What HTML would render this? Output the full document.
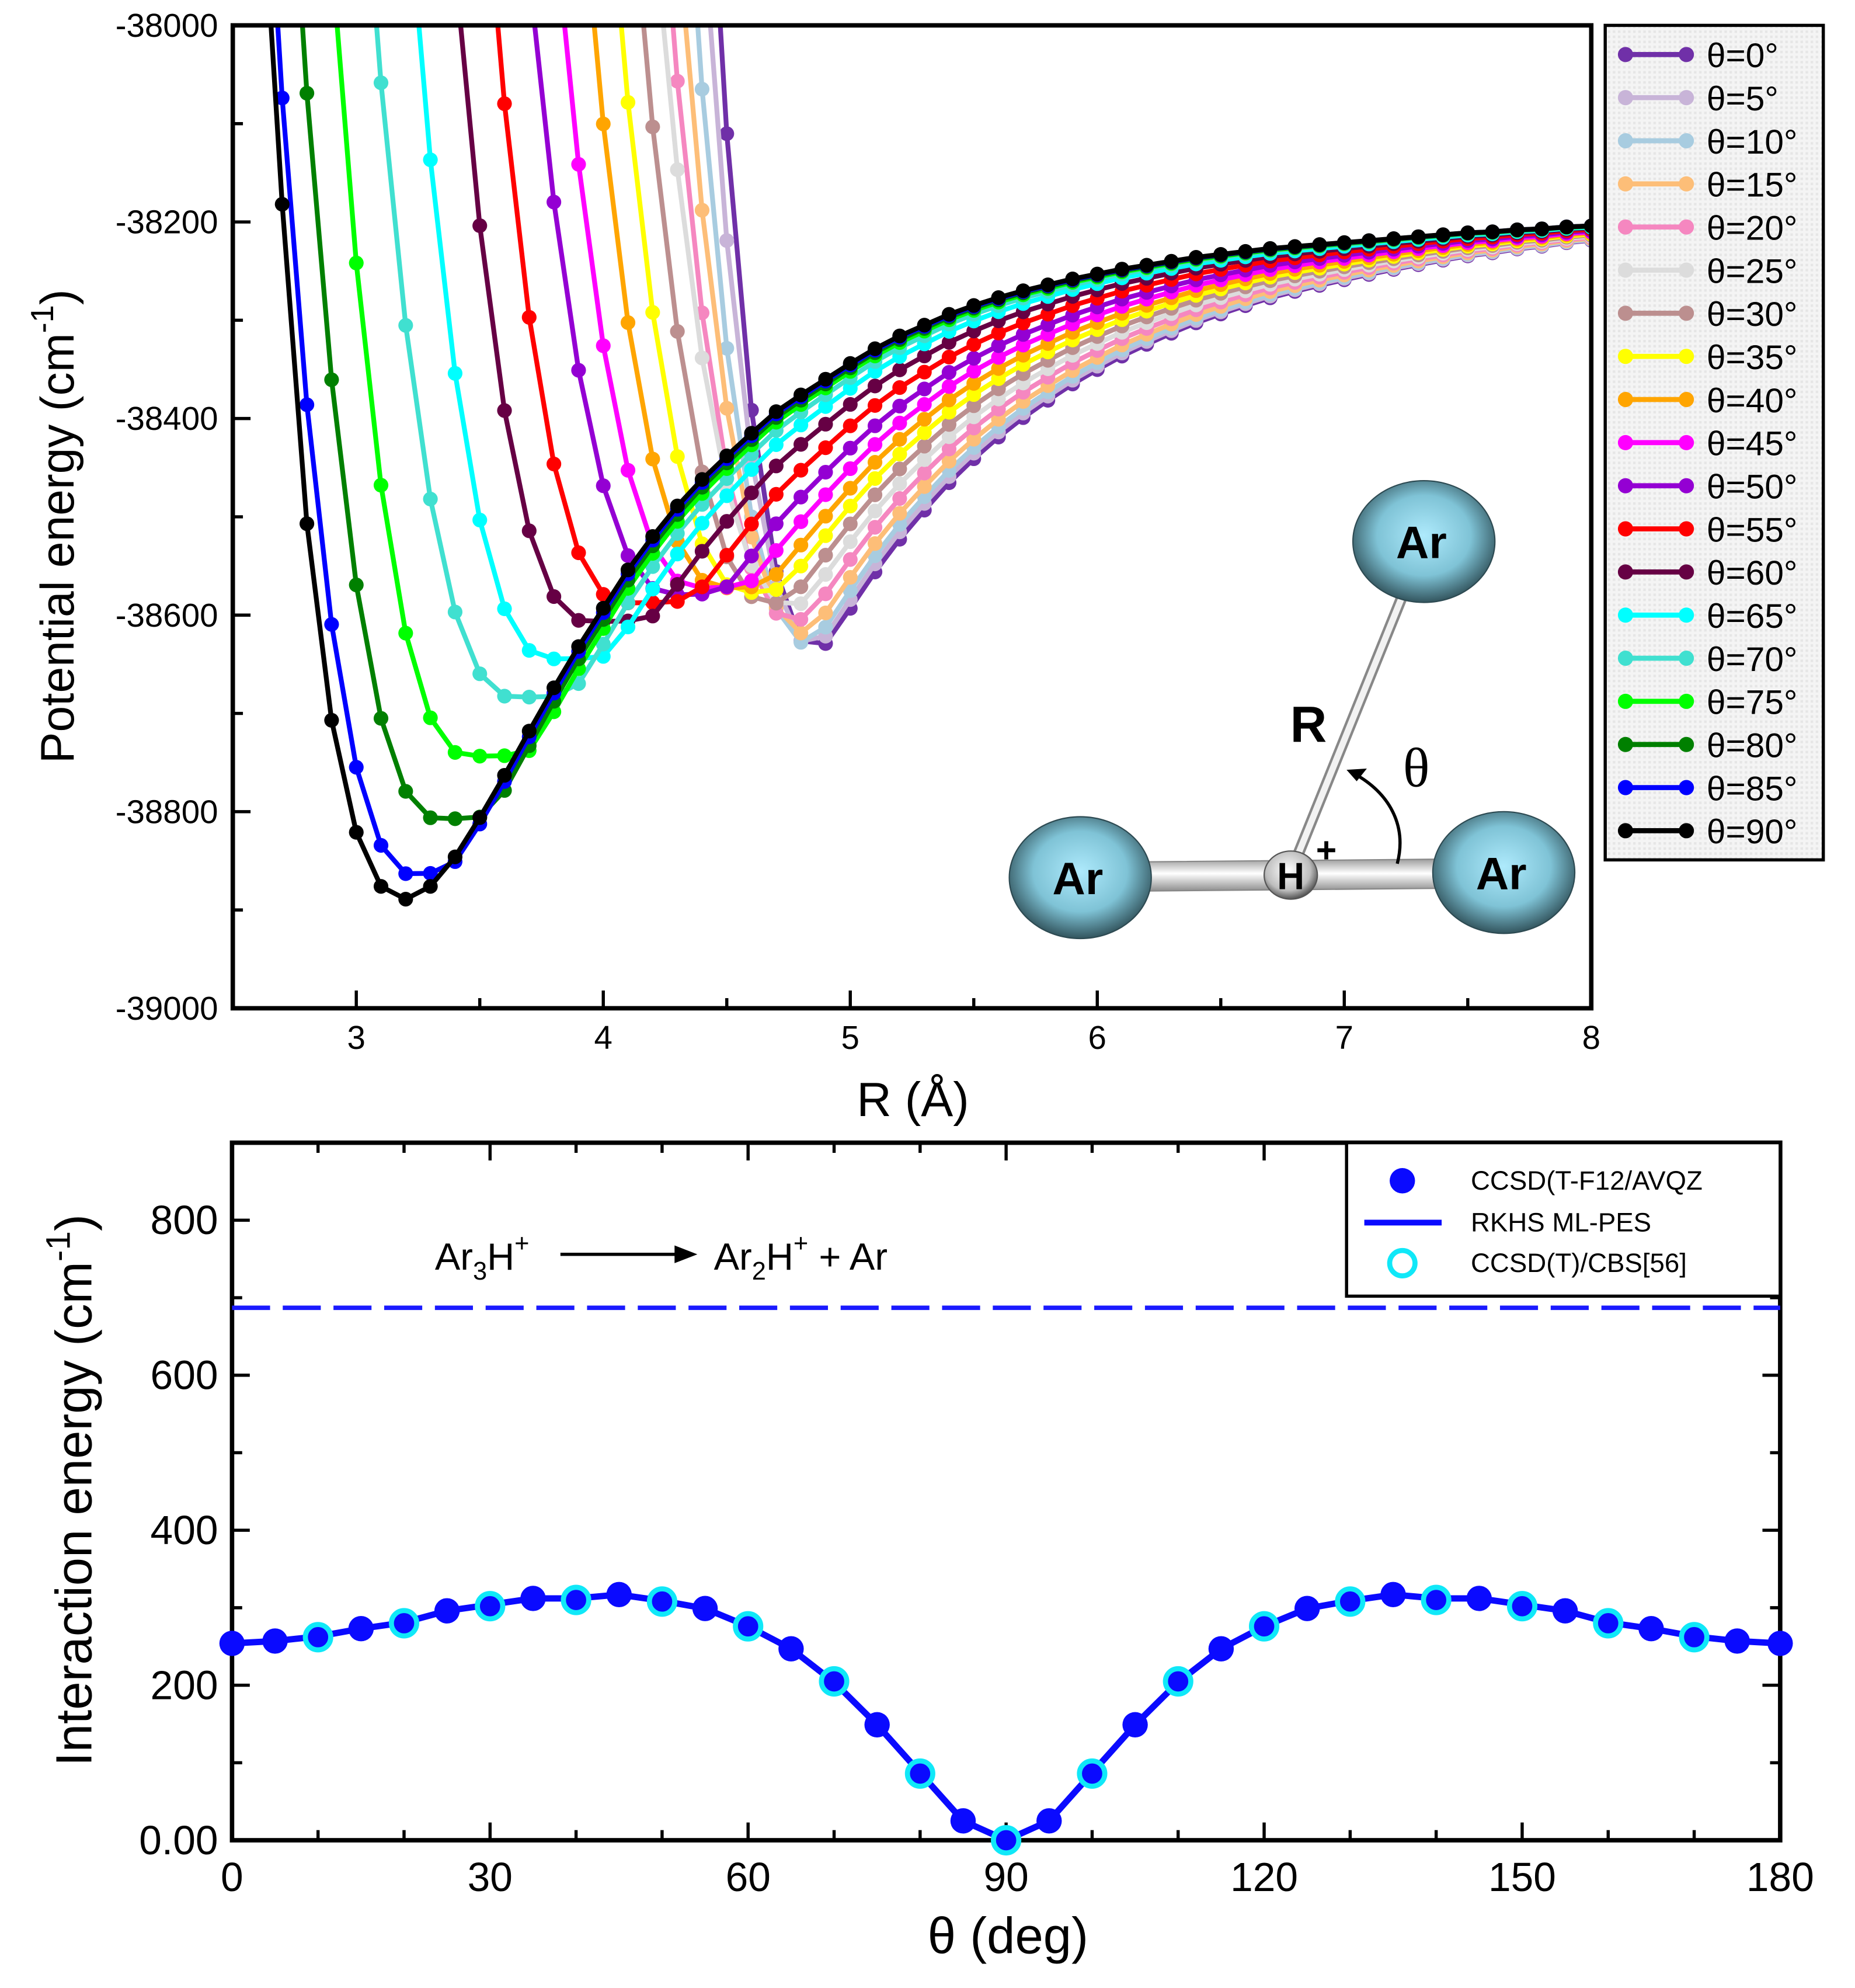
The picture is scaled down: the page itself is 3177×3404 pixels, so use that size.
<!DOCTYPE html>
<html><head><meta charset="utf-8"><title>Ar3H+ potential energy curves</title>
<style>
html,body{margin:0;padding:0;background:#fff;}
svg{display:block;font-family:"Liberation Sans",Arial,sans-serif;}
</style></head>
<body>
<svg id="fig" xmlns="http://www.w3.org/2000/svg" width="3177" height="3404" viewBox="0 0 1463 1567.5" preserveAspectRatio="none">
<defs>
 <clipPath id="clipTop"><rect x="183.6" y="20" width="1071.4" height="775"/></clipPath>
 <clipPath id="clipBot"><rect x="183" y="901" width="1221" height="550"/></clipPath>
 <radialGradient id="arGrad" cx="50%" cy="45%" r="55%">
  <stop offset="0%" stop-color="#aeeafc"/><stop offset="60%" stop-color="#7fc3d6"/><stop offset="100%" stop-color="#33555e"/>
 </radialGradient>
 <radialGradient id="hGrad" cx="45%" cy="40%" r="60%">
  <stop offset="0%" stop-color="#ffffff"/><stop offset="70%" stop-color="#bdbdbd"/><stop offset="100%" stop-color="#555"/>
 </radialGradient>
 <linearGradient id="rodH" x1="0" y1="0" x2="0" y2="1">
  <stop offset="0%" stop-color="#9a9a9a"/><stop offset="45%" stop-color="#ffffff"/><stop offset="100%" stop-color="#8a8a8a"/>
 </linearGradient>
 <pattern id="legPat" width="4" height="4" patternUnits="userSpaceOnUse">
  <rect width="4" height="4" fill="#f4f4f4"/><rect width="2" height="2" fill="#e6e6e6"/>
 </pattern>
</defs>
<g id="top-plot"></g>
<g id="bot-plot"></g>
</svg>
<script>
// ---------- TOP CHART DATA ----------
const rGridStart = 2.6;
const rGridCount = 55; // 2.6 .. 8.0 step 0.1
const blackEnergies = [-37780,-38182,-38507,-38707,-38821,-38876,-38889,-38876,-38846,-38806,-38763,-38718,-38674,-38632,-38593,-38554,-38520,-38489,-38462,-38438,-38415,-38393,-38376,-38360,-38344,-38329,-38316,-38305,-38294,-38285,-38277,-38270,-38264,-38258,-38253,-38248,-38244,-38240,-38236,-38233,-38230,-38227,-38225,-38223,-38221,-38219,-38217,-38215,-38213,-38211,-38210,-38208,-38207,-38205,-38204];
const angles = [0,5,10,15,20,25,30,35,40,45,50,55,60,65,70,75,80,85,90];
const angleColors = ["#7030a8","#c8b4d8","#a8cce0","#fdbe78","#f587c0","#dcdcdc","#bc8f8f","#ffff00","#ffa500","#ff00ff","#9400d3","#ff0000","#660044","#00ffff","#40e0d0","#00ff00","#008000","#0000ff","#000000"];
const wallR = [4.47,4.43,4.38,4.33,4.28,4.24,4.16,4.07,3.96,3.84,3.72,3.57,3.42,3.25,3.08,2.92,2.78,2.68,2.65];
const minR = [4.88,4.88,4.85,4.85,4.8,4.8,4.7,4.6,4.5,4.4,4.3,4.1,3.95,3.8,3.65,3.47,3.35,3.25,3.2];
const minE = [-38637,-38635,-38630,-38620,-38608,-38595,-38590,-38578,-38573,-38573,-38580,-38588,-38607,-38645,-38684,-38744,-38808,-38865,-38889];
const tailOffset = [275,265,255,240,220,200,180,160,140,118,95,70,46,28,16,9,5,2,0];
const yTicksTop = [-38000,-38200,-38400,-38600,-38800,-39000];
const xTicksTop = [3,4,5,6,7,8];

// ---------- BOTTOM CHART DATA ----------
const thetaDeg = [0,5,10,15,20,25,30,35,40,45,50,55,60,65,70,75,80,85,90,95,100,105,110,115,120,125,130,135,140,145,150,155,160,165,170,175,180];
const f12Values = [254,257,263,273,281,296,304,312,312,317,309,299,276,247,204,149,87,25,0,25,87,149,204,247,276,299,309,317,312,312,304,296,281,273,263,257,254];
const cbsTheta = [10,20,30,40,50,60,70,80,90,100,110,120,130,140,150,160,170];
const cbsValues = [262,280,302,310,308,276,205,86,0,86,205,276,308,310,302,280,262];
const rkhsAsymptote = 687;
const yTicksBot = [0,200,400,600,800];
const yTickLabelsBot = ["0.00","200","400","600","800"];
const xTicksBot = [0,30,60,90,120,150,180];

const NS = "http://www.w3.org/2000/svg";
function mk(tag, attrs, parent){ const e=document.createElementNS(NS,tag); for(const k in attrs) e.setAttribute(k,attrs[k]); if(parent) parent.appendChild(e); return e; }

// ---------- TOP axes ----------
const topG = document.getElementById('top-plot');
const TX0=183.6, TX1=1255, TY0=20, TY1=795;
const xT = r => TX0 + (r-2.5)/(8-2.5)*(TX1-TX0);
const yT = e => TY0 + (-38000 - e)/1000*(TY1-TY0);

function blackAt(R){
  const f=(R-rGridStart)/0.1; let i=Math.floor(f); if(i<0) i=0; if(i>rGridCount-2) i=rGridCount-2;
  const t=f-i; return blackEnergies[i]*(1-t)+blackEnergies[i+1]*t;
}
function smax(a,b){ const eps=14; return (a+b+Math.sqrt((a-b)*(a-b)+eps*eps))/2; }
function energy(k, R, idx){
  if(angles[k]===90) return blackEnergies[idx];
  const Rm=minR[k], Em=minE[k], Rw=wallR[k];
  if(R<Rm){ return Em + (-38000-Em)*Math.pow((Rm-R)/(Rm-Rw),2.5); }
  const outer = blackAt(R) - tailOffset[k]*Math.exp(-(R-4.9)/1.06);
  return smax(Em, outer);
}

const curvesG = mk('g',{'clip-path':'url(#clipTop)'},topG);


for(let k=0;k<angles.length;k++){
  const g = mk('g',{},curvesG);
  
  
  let pts=[]; const marks=[];
  for(let i=0;i<rGridCount;i++){
    const R = rGridStart + i*0.1;
    let E = energy(k,R,i);
    if(E>-37000) E=-37000;
    pts.push(xT(R).toFixed(2)+','+yT(E).toFixed(2));
    if(E<=-37990 && E>=-39010) marks.push([xT(R),yT(E)]);
  }
  const pl = mk('polyline',{points:pts.join(' '),fill:'none',stroke:angleColors[k],'stroke-width':3.8,'stroke-linejoin':'round'},g);
  
  
  for(const m of marks){
    const c = mk('circle',{cx:m[0].toFixed(2),cy:m[1].toFixed(2),r:5.8,fill:angleColors[k]},g);
    
    
  }
}

// molecule inset
const mol = mk('g',{},topG);


mk('polygon',{points:'852,680 1186,677 1186,700 852,703',fill:'url(#rodH)',stroke:'#888','stroke-width':1},mol);
mk('line',{x1:1018,y1:688,x2:1106,y2:470,stroke:'#888','stroke-width':9,'stroke-linecap':'round'},mol);
mk('line',{x1:1018,y1:688,x2:1106,y2:470,stroke:'#f2f2f2','stroke-width':5,'stroke-linecap':'round'},mol);
const atoms=[[852,692],[1186,688],[1123,427]];
const atomNames=['argon-left','argon-right','argon-top'];
for(let i=0;i<3;i++){
  const a=atoms[i];
  const el=mk('ellipse',{cx:a[0],cy:a[1],rx:56,ry:48,fill:'url(#arGrad)',stroke:'#2d4a52','stroke-width':1},mol);
  
  
  const t=mk('text',{x:a[0]-2,y:a[1]+13,'font-size':36,'font-weight':'bold','text-anchor':'middle',fill:'#000'},mol);
  t.textContent='Ar';
}
mk('ellipse',{cx:1018,cy:690,rx:21,ry:19,fill:'url(#hGrad)',stroke:'#555','stroke-width':1},mol);
const ht=mk('text',{x:1018,y:701,'font-size':30,'font-weight':'bold','text-anchor':'middle'},mol); ht.textContent='H';
const hp=mk('text',{x:1046,y:680,'font-size':28,'font-weight':'bold','text-anchor':'middle'},mol); hp.textContent='+';
const rt=mk('text',{x:1032,y:585,'font-size':40,'font-weight':'bold','text-anchor':'middle'},mol); rt.textContent='R';
const tht=mk('text',{x:1117,y:620,'font-size':44,'text-anchor':'middle','font-family':'"Liberation Serif",serif'},mol); tht.textContent='θ';
mk('path',{d:'M1102,681 C1110,650 1095,625 1068,610',fill:'none',stroke:'#000','stroke-width':2.5},mol);
mk('polygon',{points:'1062,607 1078,606 1070,616',fill:'#000'},mol);

// frame & ticks
const axT = mk('g',{},topG);


for(let v=-38000; v>=-39000; v-=100){
  const y=yT(v), major=(v%200===0);
  mk('line',{x1:TX0,y1:y,x2:TX0+(major?14:8),y2:y,stroke:'#000','stroke-width':2.5},axT);
}
for(let r=2.5;r<=8.001;r+=0.5){
  const x=xT(r), major=Math.abs(r-Math.round(r))<1e-6;
  mk('line',{x1:x,y1:TY1,x2:x,y2:TY1-(major?14:8),stroke:'#000','stroke-width':2.5},axT);
}
mk('rect',{x:TX0,y:TY0,width:TX1-TX0,height:TY1-TY0,fill:'none',stroke:'#000','stroke-width':3.5},axT);
for(const v of yTicksTop){
  const t=mk('text',{x:172,y:yT(v)+9,'font-size':26,'text-anchor':'end'},axT);
  
  
  t.textContent=String(v);
}
for(const v of xTicksTop){
  const t=mk('text',{x:xT(v),y:827,'font-size':26,'text-anchor':'middle'},axT);
  
  
  t.textContent=String(v);
}
const xlt=mk('text',{x:720,y:880,'font-size':38,'text-anchor':'middle'},axT);


xlt.textContent='R (Å)';
const ylt=mk('text',{x:0,y:0,'font-size':37,'text-anchor':'middle',transform:'translate(58,415) rotate(-90)'},axT);


ylt.innerHTML='Potential energy (cm<tspan font-size="25" dy="-16">-1</tspan><tspan dy="16">)</tspan>';

// legend top
const legT = mk('g',{},topG);


mk('rect',{x:1266,y:20,width:172,height:658,fill:'url(#legPat)',stroke:'#000','stroke-width':2.5},legT);
for(let k=0;k<angles.length;k++){
  const y = 43 + k*34;
  const e = mk('g',{},legT);
  
  
  mk('line',{x1:1282,y1:y,x2:1330,y2:y,stroke:angleColors[k],'stroke-width':4},e);
  mk('circle',{cx:1282,cy:y,r:6,fill:angleColors[k]},e);
  mk('circle',{cx:1330,cy:y,r:6,fill:angleColors[k]},e);
  const t=mk('text',{x:1346,y:y+10,'font-size':27},e);
  t.textContent='θ='+angles[k]+'°';
}

// ---------- BOTTOM ----------
const botG = document.getElementById('bot-plot');
const BX0=183, BX1=1404, BY0=901, BY1=1451;
const xB = t => BX0 + t/180*(BX1-BX0);
const yB = v => BY1 - v/900*(BY1-BY0);

const axB = mk('g',{},botG);


for(let v=0; v<=900; v+=100){
  const y=yB(v), major=(v%200===0);
  mk('line',{x1:BX0,y1:y,x2:BX0+(major?14:8),y2:y,stroke:'#000','stroke-width':2.5},axB);
  mk('line',{x1:BX1,y1:y,x2:BX1-(major?14:8),y2:y,stroke:'#000','stroke-width':2.5},axB);
}
for(let t=0;t<=180;t+=10){
  const x=xB(t), major=(t%30===0);
  mk('line',{x1:x,y1:BY1,x2:x,y2:BY1-(major?14:8),stroke:'#000','stroke-width':2.5},axB);
  mk('line',{x1:x,y1:BY0,x2:x,y2:BY0+(major?14:8),stroke:'#000','stroke-width':2.5},axB);
}

const dash = mk('line',{x1:BX0,y1:yB(rkhsAsymptote),x2:BX1,y2:yB(rkhsAsymptote),stroke:'#1a1aff','stroke-width':3.5,'stroke-dasharray':'30,10'},botG);



const serG = mk('g',{'clip-path':'url(#clipBot)'},botG);


const lp = thetaDeg.map((t,i)=>xB(t).toFixed(2)+','+yB(f12Values[i]).toFixed(2)).join(' ');
const rk = mk('polyline',{points:lp,fill:'none',stroke:'#0a0aff','stroke-width':5,'stroke-linejoin':'round'},serG);


for(let i=0;i<thetaDeg.length;i++){
  const c=mk('circle',{cx:xB(thetaDeg[i]),cy:yB(f12Values[i]),r:10,fill:'#0a0aff'},botG);
  
  
}
for(let i=0;i<cbsTheta.length;i++){
  const c=mk('circle',{cx:xB(cbsTheta[i]),cy:yB(cbsValues[i]),r:10,fill:'none',stroke:'#10e8f8','stroke-width':4},botG);
  
  
}
mk('rect',{x:BX0,y:BY0,width:BX1-BX0,height:BY1-BY0,fill:'none',stroke:'#000','stroke-width':3.5},axB);
for(let i=0;i<yTicksBot.length;i++){
  const t=mk('text',{x:172,y:yB(yTicksBot[i])+11,'font-size':32,'text-anchor':'end'},axB);
  
  
  t.textContent=yTickLabelsBot[i];
}
for(const v of xTicksBot){
  const t=mk('text',{x:xB(v),y:1491,'font-size':32,'text-anchor':'middle'},axB);
  
  
  t.textContent=String(v);
}
const bxt=mk('text',{x:795,y:1540,'font-size':40,'text-anchor':'middle'},axB);


bxt.textContent='θ (deg)';
const byt=mk('text',{x:0,y:0,'font-size':40,'text-anchor':'middle',transform:'translate(72,1175) rotate(-90)'},axB);


byt.innerHTML='Interaction energy (cm<tspan font-size="27" dy="-17">-1</tspan><tspan dy="17">)</tspan>';

const ann = mk('g',{},botG);


const a1=mk('text',{x:343,y:1001,'font-size':30},ann);
a1.innerHTML='Ar<tspan font-size="20" dy="8">3</tspan><tspan dy="-8">H</tspan><tspan font-size="20" dy="-14">+</tspan>';
mk('line',{x1:442,y1:989,x2:535,y2:989,stroke:'#000','stroke-width':2.5},ann);
mk('polygon',{points:'550,989 532,982 532,996',fill:'#000'},ann);
const a2=mk('text',{x:563,y:1001,'font-size':30},ann);
a2.innerHTML='Ar<tspan font-size="20" dy="8">2</tspan><tspan dy="-8">H</tspan><tspan font-size="20" dy="-14">+</tspan><tspan dy="14"> + Ar</tspan>';

const legB = mk('g',{},botG);


mk('rect',{x:1062,y:901,width:342,height:121,fill:'#fff',stroke:'#000','stroke-width':2.5},legB);
const le1=mk('g',{},legB);


mk('circle',{cx:1106,cy:931,r:10,fill:'#0a0aff'},le1);
const l1=mk('text',{x:1160,y:938,'font-size':21},le1); l1.textContent='CCSD(T-F12/AVQZ';
const le2=mk('g',{},legB);


mk('line',{x1:1076,y1:964,x2:1137,y2:964,stroke:'#0a0aff','stroke-width':4.5},le2);
const l2=mk('text',{x:1160,y:971,'font-size':21},le2); l2.textContent='RKHS ML-PES';
const le3=mk('g',{},legB);


mk('circle',{cx:1106,cy:996,r:10,fill:'none',stroke:'#10e8f8','stroke-width':4},le3);
const l3=mk('text',{x:1160,y:1003,'font-size':21},le3); l3.textContent='CCSD(T)/CBS[56]';
</script>
</body></html>
